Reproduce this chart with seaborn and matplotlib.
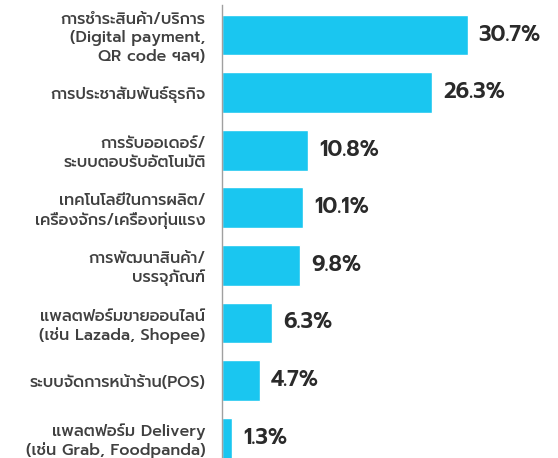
import matplotlib
matplotlib.use("Agg")
import matplotlib.pyplot as plt
import seaborn as sns
import pandas as pd

categories = [
    "การชำระสินค้า/บริการ\n(Digital payment,\nQR code ฯลฯ)",
    "การประชาสัมพันธ์ธุรกิจ",
    "การรับออเดอร์/\nระบบตอบรับอัตโนมัติ",
    "เทคโนโลยีในการผลิต/\nเครื่องจักร/เครื่องทุ่นแรง",
    "การพัฒนาสินค้า/\nบรรจุภัณฑ์",
    "แพลตฟอร์มขายออนไลน์\n(เช่น Lazada, Shopee)",
    "ระบบจัดการหน้าร้าน(POS)",
    "แพลตฟอร์ม Delivery\n(เช่น Grab, Foodpanda)",
]
values = [30.7, 26.3, 10.8, 10.1, 9.8, 6.3, 4.7, 1.3]
value_labels = ["30.7%", "26.3%", "10.8%", "10.1%", "9.8%", "6.3%", "4.7%", "1.3%"]

df = pd.DataFrame({"category": categories, "value": values})

sns.set_theme(style="white")
plt.rcParams["font.family"] = ["Prompt", "DejaVu Sans"]

fig = plt.figure(figsize=(5.58, 4.58), dpi=100)
ax = fig.add_axes([222 / 558, 0.0, 1 - 222 / 558, 1.0])

sns.barplot(data=df, x="value", y="category", orient="h", color="#1ac6f0",
            saturation=1, width=0.71, ax=ax)

ax.set_xlim(0, 42)
ax.set_ylim(7.344, -0.608)

for i, (v, lab) in enumerate(zip(values, value_labels)):
    ax.annotate(lab, xy=(v, i), xytext=(8, 0), textcoords="offset points",
                va="center", ha="left", fontsize=15.5, fontweight="semibold",
                color="#2a2a2a")

ax.set_xlabel("")
ax.set_ylabel("")
ax.set_xticks([])
ax.tick_params(axis="y", length=0, pad=12)
for t in ax.get_yticklabels():
    t.set_fontsize(11.5)
    t.set_fontweight("medium")
    t.set_color("#404040")
    t.set_multialignment("right")
    t.set_linespacing(1.2)

for s in ["top", "right", "bottom"]:
    ax.spines[s].set_visible(False)
ax.spines["left"].set_color("#a0a0a0")
ax.spines["left"].set_linewidth(1.0)
ax.spines["left"].set_bounds(-0.52, 7.344)

fig.savefig("out.png", dpi=100)
